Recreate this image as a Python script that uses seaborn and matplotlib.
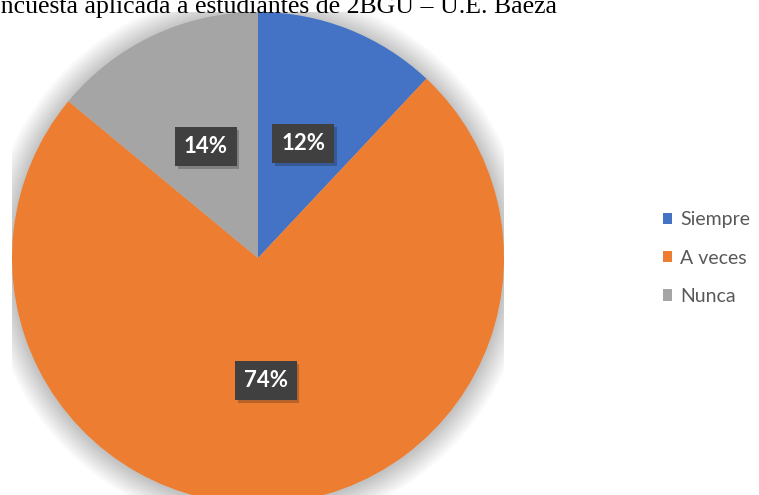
import matplotlib
matplotlib.use('Agg')
import matplotlib.pyplot as plt
import matplotlib.patheffects as pe
from matplotlib.patches import Circle
import seaborn as sns

# data
categories = ['Siempre', 'A veces', 'Nunca']
percents = [12, 74, 14]
colors = ['#4472C4', '#ED7D31', '#A5A5A5']
title = 'Encuesta aplicada a estudiantes de 2BGU – U.E. Baeza'

sns.set_theme(style='white')
plt.rcParams['font.family'] = ['Lato', 'DejaVu Sans']

fig = plt.figure(figsize=(7.59, 4.95), dpi=100)
W, H = 759, 495
cx, cy, r = 258, 258, 246
ax = fig.add_axes([(cx - r) / W, (H - cy - r) / H, 2 * r / W, 2 * r / H])

wedges, texts, autotexts = ax.pie(percents, colors=colors, startangle=90, counterclock=False,
                                  radius=1.0, autopct='%1.0f%%', pctdistance=0.5,
                                  wedgeprops=dict(linewidth=0, zorder=2),
                                  textprops=dict(color='white', fontsize=16, fontweight='bold'))
for t in autotexts:
    t.set_zorder(5)
    t.set_bbox(dict(boxstyle='square,pad=0.4', facecolor='#404040', edgecolor='none'))
    t.get_bbox_patch().set_path_effects([pe.SimplePatchShadow(offset=(2, -2), alpha=0.25),
                                         pe.Normal()])

# soft shadow around the pie
for i in range(20):
    ax.add_patch(Circle((0.0, -0.005), 1.0 + 0.005 * (20 - i), color='#000000',
                        alpha=0.01, lw=0, zorder=0))

ax.set_xlim(-1, 1)
ax.set_ylim(-1, 1)
ax.set_aspect('equal')
ax.axis('off')

fig.legend(wedges, categories, loc='center left', bbox_to_anchor=(645 / W, 1 - 258 / H),
           frameon=False, fontsize=14, labelcolor='#595959', handlelength=0.5,
           handleheight=0.5, handletextpad=0.4, labelspacing=1.1)

fig.text(-15 / W, 1 - 13 / H, title, family='Liberation Serif', fontsize=18.5,
         ha='left', va='baseline', color='black')

fig.savefig('out.png', dpi=100)
